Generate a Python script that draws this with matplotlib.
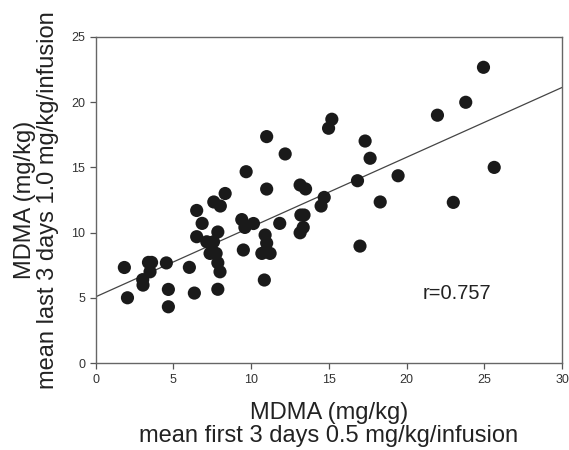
import numpy as np
import matplotlib
matplotlib.use("Agg")
import matplotlib.pyplot as plt

plt.rcParams.update({
    "font.family": ["Liberation Sans", "DejaVu Sans"],
    "xtick.direction": "out",
    "ytick.direction": "out",
})

# mean MDMA intake, first 3 days (0.5 mg/kg/inf) vs last 3 days (1.0 mg/kg/inf)
first_days = [1.85, 2.05, 3.03, 3.05, 3.4, 3.6, 3.5, 4.55, 4.68, 4.68,
              6.03, 6.35, 6.5, 6.5, 6.85, 7.15, 7.58, 7.86, 7.6, 8.02,
              8.33, 7.36, 7.75, 7.86, 8.0, 7.86, 9.4, 9.6, 10.15, 9.5,
              9.68, 11.0, 12.19, 11.0, 11.84, 10.9, 11.0, 10.69, 11.22, 10.85,
              13.15, 13.5, 13.2, 13.4, 13.35, 13.15, 14.5, 14.7, 14.98, 15.19,
              16.84, 17.33, 17.65, 17.0, 18.3, 19.45, 21.98, 23.8, 23.0, 24.94,
              25.63]
last_days = [7.33, 5.01, 6.4, 5.98, 7.72, 7.72, 7.0, 7.68, 5.65, 4.32,
             7.34, 5.37, 9.69, 11.7, 10.71, 9.3, 9.3, 10.05, 12.35, 12.04,
             13.0, 8.41, 8.41, 7.69, 7.0, 5.66, 11.0, 10.4, 10.7, 8.67,
             14.67, 17.36, 16.03, 13.34, 10.71, 9.82, 9.2, 8.41, 8.41, 6.37,
             13.65, 13.35, 11.35, 11.35, 10.4, 9.99, 12.04, 12.7, 18.0, 18.69,
             13.98, 17.02, 15.7, 8.97, 12.35, 14.36, 19.0, 19.99, 12.32, 22.67,
             15.0]

# regression line
fit_intercept = 5.08
fit_slope = 0.535
r_value = 0.757

fig = plt.figure(figsize=(5.69, 4.5), dpi=100)
ax = fig.add_axes([0.168, 0.193, 0.82, 0.725])

ax.scatter(first_days, last_days, s=90, color="#1a1a1a", edgecolors="none", zorder=3)

xl = np.array([0, 30])
ax.plot(xl, fit_intercept + fit_slope * xl, color="#444444", lw=0.9, zorder=2)

ax.text(21.0, 5.35, f"r={r_value:.3f}", fontsize=14.5, color="#222222", va="center")

ax.set_xlim(0, 30)
ax.set_ylim(0, 25)
ax.set_xticks(range(0, 31, 5))
ax.set_yticks(range(0, 26, 5))
ax.tick_params(labelsize=9, colors="#555555", labelcolor="#333333", length=4, width=0.9)
for s in ax.spines.values():
    s.set_color("#666666")
    s.set_linewidth(1.0)

ax.set_xlabel("MDMA (mg/kg)\nmean first 3 days 0.5 mg/kg/infusion",
              fontsize=17, color="#222222", linespacing=1.05, labelpad=12)
ax.set_ylabel("MDMA (mg/kg)\nmean last 3 days 1.0 mg/kg/infusion",
              fontsize=17, color="#222222", linespacing=1.05, labelpad=9)

fig.savefig("out.png", dpi=100)
